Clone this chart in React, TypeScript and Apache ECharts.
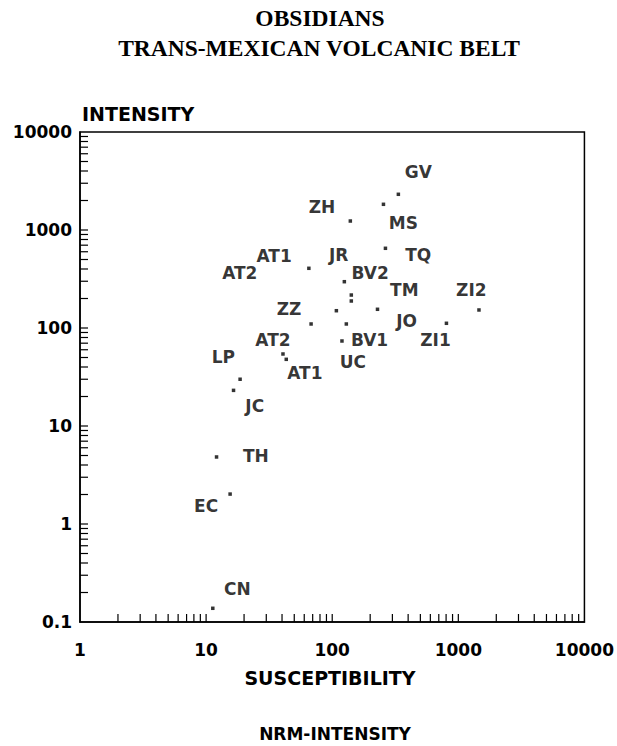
import React, { useEffect, useRef } from "react";
import * as echarts from "echarts";

// Sample points: [susceptibility, intensity]
const pointValues: [number, number][] = [
  [334.6, 2314], // GV
  [254.9, 1829], // MS
  [139.2, 1235], // ZH
  [264.3, 650.6], // TQ
  [65.3, 406.6], // AT1 / AT2
  [124.8, 296.8], // JR / BV2
  [141.7, 217], // BV2
  [141.7, 188.6], // TM
  [107.9, 150.1], // ZZ
  [228.6, 155.2], // JO
  [1458, 152.7], // ZI2
  [68.0, 109.9], // ZZ
  [129.4, 109.9], // BV1
  [804.9, 111.7], // ZI1
  [119.5, 73.7], // BV1 / UC
  [40.7, 54.3], // AT2
  [43.2, 47.9], // AT1
  [18.6, 30.0], // LP
  [16.5, 23.1], // JC
  [12.1, 4.83], // TH
  [15.5, 2.02], // EC
  [11.3, 0.138], // CN
];

// Label names and their anchor positions in data space
const labelNames: string[] = [
  "GV", "ZH", "MS", "AT1", "JR", "TQ", "AT2", "BV2", "TM", "ZI2", "ZZ",
  "JO", "AT2", "BV1", "ZI1", "LP", "UC", "AT1", "JC", "TH", "EC", "CN",
];
const labelX: number[] = [
  481.4, 83.1, 366.5, 34.6, 112.5, 481.4, 18.5, 200.2, 373.3, 1268, 45.4,
  389.2, 33.9, 197.6, 659, 13.7, 145.9, 60.7, 24.3, 24.8, 10.0, 17.7,
];
const labelY: number[] = [
  3934, 1704, 1171, 542.9, 555.8, 555.8, 361.5, 361.5, 244.2, 244.2, 156.3,
  118.7, 75.4, 75.4, 75.4, 50.9, 45.3, 35.0, 16.0, 4.98, 1.54, 0.217,
];

// Minor tick values
const xMinorTicks: number[] = [
  2, 3, 4, 5, 6, 7, 8, 9, 10,
  20, 30, 40, 50, 60, 70, 80, 90, 100,
  200, 300, 400, 500, 600, 700, 800, 900, 1000,
  2000, 3000, 4000, 5000, 6000, 7000, 8000, 9000,
];
const yMinorTicks: number[] = [
  0.2, 0.3, 0.4, 0.5, 0.6, 0.7, 0.8, 0.9, 1,
  2, 3, 4, 5, 6, 7, 8, 9, 10,
  20, 30, 40, 50, 60, 70, 80, 90, 100,
  200, 300, 400, 500, 600, 700, 800, 900, 1000,
  2000, 3000, 4000, 5000, 6000, 7000, 8000, 9000,
];

const titleLines: string[] = ["OBSIDIANS", "TRANS-MEXICAN VOLCANIC BELT"];
const yAxisName = "INTENSITY";
const xAxisName = "SUSCEPTIBILITY";
const footer = "NRM-INTENSITY";

const SANS = "'DejaVu Sans', sans-serif";

const fmt = (v: number) => String(+v.toPrecision(6));

export default function App() {
  const ref = useRef<HTMLDivElement>(null);

  useEffect(() => {
    if (!ref.current) return;
    const chart = echarts.init(ref.current, null, { renderer: "svg" });
    const tickLen = 8;
    chart.setOption({
      animation: false,
      backgroundColor: "#fff",
      grid: {
        left: 80,
        top: 132,
        width: 507,
        height: 490,
        show: true,
        borderColor: "#000",
        borderWidth: 1.5,
        backgroundColor: "transparent",
      },
      xAxis: {
        type: "log",
        logBase: 10,
        min: 1,
        max: 10000,
        axisLine: { show: true, lineStyle: { color: "#000", width: 1.5 } },
        axisTick: { show: false },
        splitLine: { show: false },
        axisLabel: {
          color: "#000",
          fontFamily: SANS,
          fontWeight: "bold",
          fontSize: 17,
          margin: 19,
          formatter: fmt,
        },
      },
      yAxis: {
        type: "log",
        logBase: 10,
        min: 0.1,
        max: 10000,
        axisLine: { show: true, lineStyle: { color: "#000", width: 1.5 } },
        axisTick: { show: false },
        splitLine: { show: false },
        axisLabel: {
          color: "#000",
          fontFamily: SANS,
          fontWeight: "bold",
          fontSize: 17,
          margin: 8,
          formatter: fmt,
        },
      },
      graphic: [
        {
          type: "text",
          x: 320,
          y: 18,
          style: {
            text: titleLines[0],
            textAlign: "center",
            textVerticalAlign: "middle",
            font: "bold 23.5px 'Liberation Serif', serif",
            fill: "#000",
          },
        },
        {
          type: "text",
          x: 319,
          y: 48,
          style: {
            text: titleLines[1],
            textAlign: "center",
            textVerticalAlign: "middle",
            font: "bold 23.5px 'Liberation Serif', serif",
            fill: "#000",
          },
        },
        {
          type: "text",
          x: 82,
          y: 114,
          style: {
            text: yAxisName,
            textAlign: "left",
            textVerticalAlign: "middle",
            font: `bold 19px ${SANS}`,
            fill: "#000",
          },
        },
        {
          type: "text",
          x: 330,
          y: 678,
          style: {
            text: xAxisName,
            textAlign: "center",
            textVerticalAlign: "middle",
            font: `bold 19px ${SANS}`,
            fill: "#000",
          },
        },
        {
          type: "text",
          x: 335,
          y: 734,
          style: {
            text: footer,
            textAlign: "center",
            textVerticalAlign: "middle",
            font: `bold 17px ${SANS}`,
            fill: "#000",
          },
        },
      ],
      series: [
        {
          type: "custom",
          silent: true,
          data: xMinorTicks.map((v) => [v, 0.1]),
          renderItem: (params: any, api: any) => {
            const p = api.coord([api.value(0), api.value(1)]);
            return {
              type: "line",
              shape: { x1: p[0], y1: p[1], x2: p[0], y2: p[1] - tickLen },
              style: { stroke: "#000", lineWidth: 1.2 },
            };
          },
        },
        {
          type: "custom",
          silent: true,
          data: yMinorTicks.map((v) => [1, v]),
          renderItem: (params: any, api: any) => {
            const p = api.coord([api.value(0), api.value(1)]);
            return {
              type: "line",
              shape: { x1: p[0], y1: p[1], x2: p[0] + tickLen, y2: p[1] },
              style: { stroke: "#000", lineWidth: 1.2 },
            };
          },
        },
        {
          type: "scatter",
          symbol: "rect",
          symbolSize: 3.5,
          itemStyle: { color: "#000" },
          data: pointValues,
        },
        {
          type: "scatter",
          symbolSize: 0,
          data: labelNames.map((n, i) => ({ name: n, value: [labelX[i], labelY[i]] })),
          label: {
            show: true,
            position: "inside",
            formatter: "{b}",
            color: "#000",
            fontFamily: SANS,
            fontWeight: "bold",
            fontSize: 17,
          },
        },
      ],
    });
    return () => chart.dispose();
  }, []);

  return (
    <div
      ref={ref}
      style={{ position: "absolute", left: 0, top: 0, width: 617, height: 746 }}
    />
  );
}
